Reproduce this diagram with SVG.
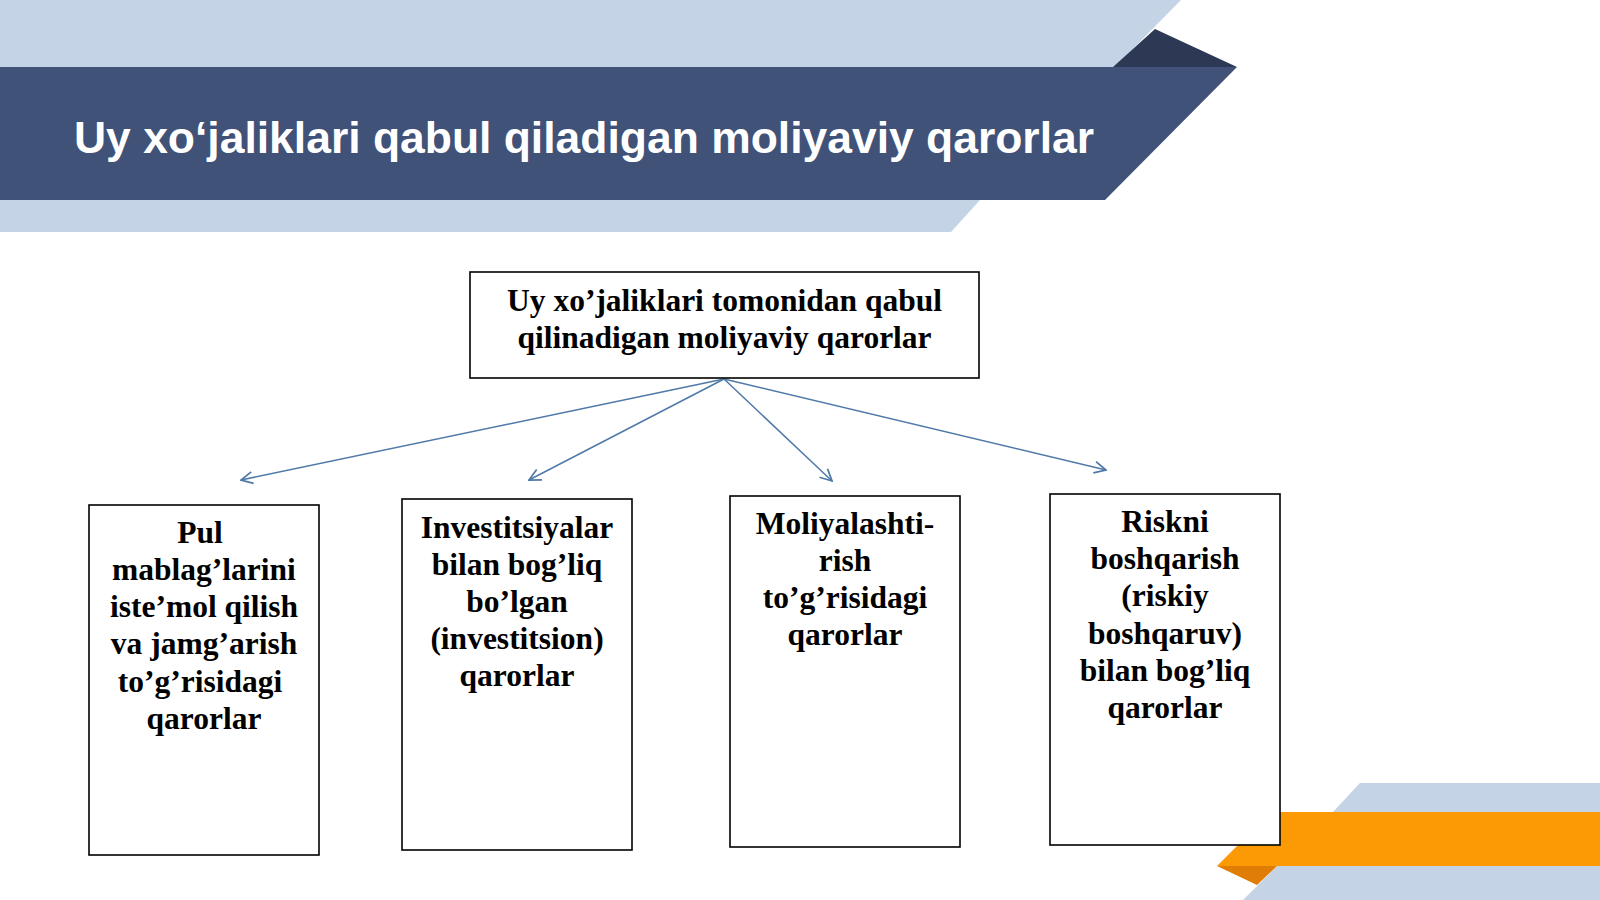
<svg xmlns="http://www.w3.org/2000/svg" width="1600" height="900" viewBox="0 0 1600 900">
<defs>
<style>
.box{fill:#ffffff;stroke:#000000;stroke-width:1.6}
.lbl{font-family:"Liberation Serif","Times New Roman",serif;font-weight:bold;font-size:31.5px;fill:#000000;text-anchor:middle}
.conn{stroke:#4f79a8;stroke-width:1.5;fill:none;marker-end:url(#arr)}
</style>
<marker id="arr" viewBox="0 0 12 12" refX="11" refY="6" markerWidth="14" markerHeight="14" markerUnits="userSpaceOnUse" orient="auto">
<path d="M1,1 L11,6 L1,11" fill="none" stroke="#4f79a8" stroke-width="1.5"/>
</marker>
</defs>
<rect x="0" y="0" width="1600" height="900" fill="#ffffff"/>
<g id="decor">
<polygon points="0,0 1181,0 1115,67 0,67" fill="#c5d3e6"/>
<polygon points="0,200 980,200 951,232 0,232" fill="#c5d3e6"/>
<polygon points="1113,67 1155,29 1237,67" fill="#2c3854"/>
<polygon points="0,67 1237,67 1105,200 0,200" fill="#405278"/>
<polygon points="1360,783 1600,783 1600,812 1333,812" fill="#c5d3e6"/>
<polygon points="1277,866 1600,866 1600,900 1243,900" fill="#c5d3e6"/>
<polygon points="1271,812 1600,812 1600,866 1217,866" fill="#fb9a04"/>
<polygon points="1217,866 1257,885 1277,866" fill="#df7d06"/>
</g>
<g id="title">
<text x="74" y="153" font-family="'Liberation Sans',Arial,sans-serif" font-weight="bold" font-size="44" fill="#ffffff" textLength="1020" lengthAdjust="spacingAndGlyphs">Uy xo‘jaliklari qabul qiladigan moliyaviy qarorlar</text>
</g>
<g id="connectors">
<line class="conn" x1="724" y1="379" x2="241" y2="480"/>
<line class="conn" x1="724" y1="379" x2="529" y2="480"/>
<line class="conn" x1="724" y1="379" x2="832" y2="481"/>
<line class="conn" x1="724" y1="379" x2="1106" y2="470"/>
</g>
<g id="root">
<rect class="box" x="470" y="272" width="509" height="106"/>
<text class="lbl" x="724.5" y="311">Uy xo’jaliklari tomonidan qabul</text>
<text class="lbl" x="724.5" y="348">qilinadigan moliyaviy qarorlar</text>
</g>
<g id="node1">
<rect class="box" x="89" y="505" width="230" height="350"/>
<text class="lbl" x="200" y="543">Pul</text>
<text class="lbl" x="204" y="580">mablag’larini</text>
<text class="lbl" x="204" y="617">iste’mol qilish</text>
<text class="lbl" x="204" y="654">va jamg’arish</text>
<text class="lbl" x="200" y="692">to’g’risidagi</text>
<text class="lbl" x="204" y="729">qarorlar</text>
</g>
<g id="node2">
<rect class="box" x="402" y="499" width="230" height="351"/>
<text class="lbl" x="517" y="538">Investitsiyalar</text>
<text class="lbl" x="517" y="575">bilan bog’liq</text>
<text class="lbl" x="517" y="612">bo’lgan</text>
<text class="lbl" x="517" y="649">(investitsion)</text>
<text class="lbl" x="517" y="686">qarorlar</text>
</g>
<g id="node3">
<rect class="box" x="730" y="496" width="230" height="351"/>
<text class="lbl" x="845" y="534">Moliyalashti-</text>
<text class="lbl" x="845" y="571">rish</text>
<text class="lbl" x="845" y="608">to’g’risidagi</text>
<text class="lbl" x="845" y="645">qarorlar</text>
</g>
<g id="node4">
<rect class="box" x="1050" y="494" width="230" height="351"/>
<text class="lbl" x="1165" y="532">Riskni</text>
<text class="lbl" x="1165" y="569">boshqarish</text>
<text class="lbl" x="1165" y="606">(riskiy</text>
<text class="lbl" x="1165" y="644">boshqaruv)</text>
<text class="lbl" x="1165" y="681">bilan bog’liq</text>
<text class="lbl" x="1165" y="718">qarorlar</text>
</g>
</svg>
